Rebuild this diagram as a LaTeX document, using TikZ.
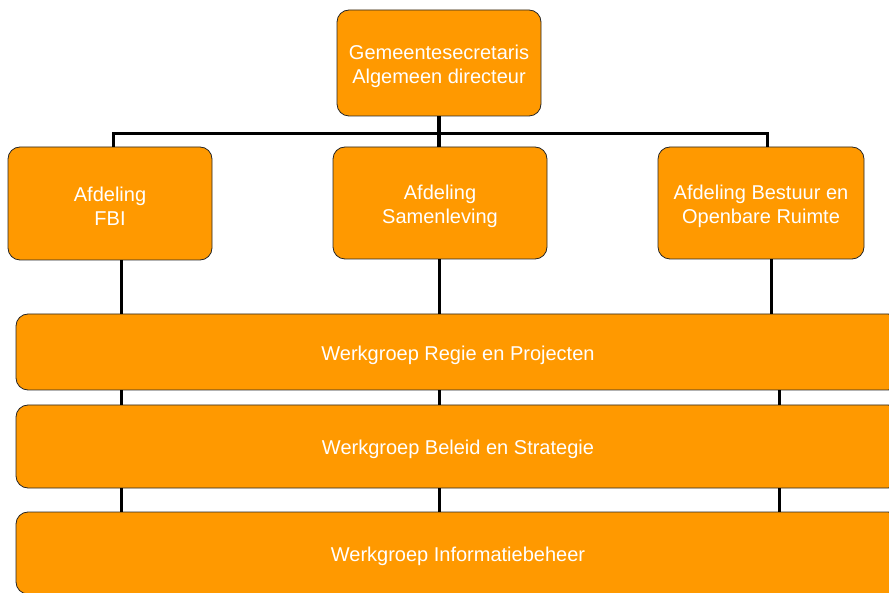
\documentclass[tikz,border=0pt]{standalone}
\usepackage{fontspec}
\setmainfont{Liberation Sans}
\definecolor{orgorange}{HTML}{FF9900}
\begin{document}
\begin{tikzpicture}[x=1pt,y=-1pt,
  orgbox/.style={draw=black!85, line width=0.8pt, fill=orgorange, rounded corners=12pt,
    inner sep=0pt},
  boxtext/.style={inner sep=0pt, text=white, align=center, yshift=-3pt,
    font=\fontsize{20}{24}\selectfont},
  link/.style={draw=black, line width=3pt}
]
\useasboundingbox (0,0) rectangle (889,593);
\coordinate (busL) at (113,134);
\coordinate (busR) at (767,134);
% boxes
\node[orgbox, minimum width=204pt, minimum height=106pt,
  label={[boxtext]center:{Gemeentesecretaris\\Algemeen directeur}}] (top) at (439,63) {};
\node[orgbox, minimum width=204pt, minimum height=113pt,
  label={[boxtext]center:{Afdeling\\FBI}}] (fbi) at (110,203.5) {};
\node[orgbox, minimum width=214pt, minimum height=112pt,
  label={[boxtext]center:{Afdeling\\Samenleving}}] (sam) at (440,203) {};
\node[orgbox, minimum width=206pt, minimum height=112pt,
  label={[boxtext]center:{Afdeling Bestuur en\\Openbare Ruimte}}] (bes) at (761,203) {};
\node[orgbox, minimum width=884pt, minimum height=76pt,
  label={[boxtext]center:{Werkgroep Regie en Projecten}}] (w1) at (458,352) {};
\node[orgbox, minimum width=884pt, minimum height=83pt,
  label={[boxtext]center:{Werkgroep Beleid en Strategie}}] (w2) at (458,446.5) {};
\node[orgbox, minimum width=884pt, minimum height=82pt,
  label={[boxtext]center:{Werkgroep Informatiebeheer}}] (w3) at (458,553) {};
% top connector
\draw[link, line width=4.5pt] (top.south) -- (top.south |- sam.north);
\draw[link] (busL |- fbi.north) -- (busL) -- (busR) -- (busR |- bes.north);
% lower connectors
\draw[link] ([xshift=11pt]fbi.south) -- ([xshift=11pt]fbi.south |- w1.north);
\draw[link] ([xshift=-1pt]sam.south) -- ([xshift=-1pt]sam.south |- w1.north);
\draw[link] ([xshift=10pt]bes.south) -- ([xshift=10pt]bes.south |- w1.north);
\coordinate (cL) at (121,0);
\coordinate (cM) at (439,0);
\coordinate (cR) at (779,0);
\draw[link] (cL |- w1.south) -- (cL |- w2.north);
\draw[link] (cM |- w1.south) -- (cM |- w2.north);
\draw[link] (cR |- w1.south) -- (cR |- w2.north);
\draw[link] (cL |- w2.south) -- (cL |- w3.north);
\draw[link] (cM |- w2.south) -- (cM |- w3.north);
\draw[link] (cR |- w2.south) -- (cR |- w3.north);
\end{tikzpicture}
\end{document}
